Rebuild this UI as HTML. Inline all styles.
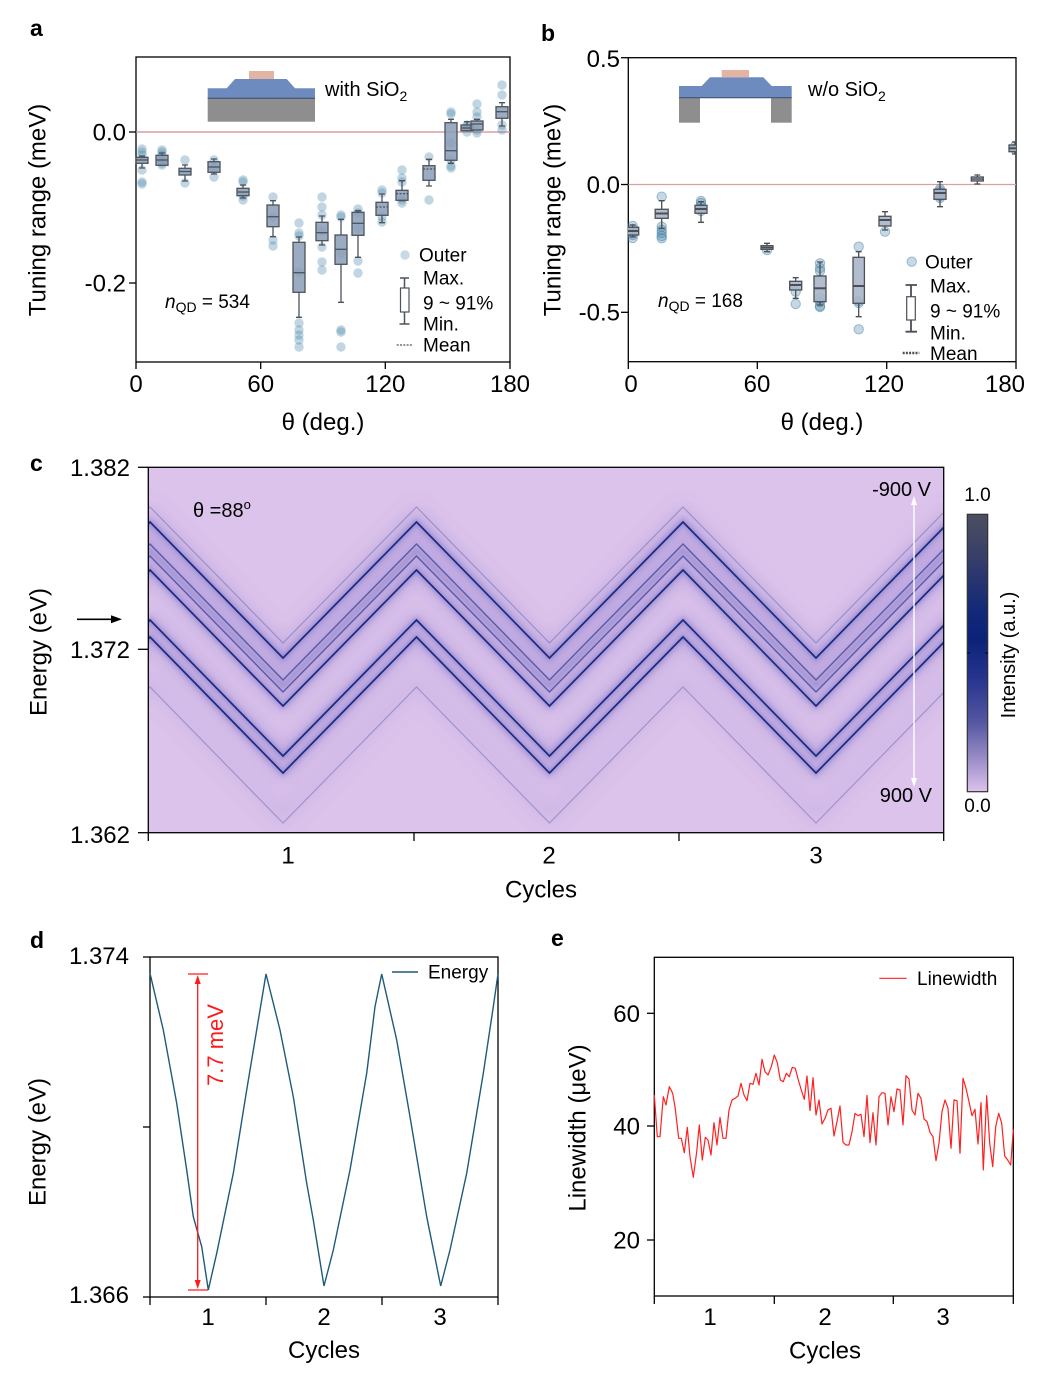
<!DOCTYPE html>
<html><head><meta charset="utf-8"><style>
html,body{margin:0;padding:0;background:#fff;}
svg{display:block;}
text{font-family:"Liberation Sans",Arial,sans-serif;fill:#000;}
</style></head><body>
<svg width="1046" height="1379" viewBox="0 0 1046 1379" xmlns="http://www.w3.org/2000/svg">
<defs>
<filter id="bl6" x="-10%" y="-50%" width="120%" height="200%"><feGaussianBlur stdDeviation="9"/></filter>
<filter id="bl2" x="-10%" y="-50%" width="120%" height="200%"><feGaussianBlur stdDeviation="2.5"/></filter>
<clipPath id="cc"><rect x="148" y="467" width="796" height="365"/></clipPath>
<clipPath id="cb"><rect x="628" y="57" width="388" height="305"/></clipPath>
<path id="z" d="M17,136 L150,0 L283,136 L416.5,0 L549.5,136 L683,0 L816,136 L949,0 L1082,136" fill="none"/>
<linearGradient id="cbar" x1="0" y1="0" x2="0" y2="1">
<stop offset="0" stop-color="#4c4f60"/>
<stop offset="0.15" stop-color="#383f68"/>
<stop offset="0.35" stop-color="#122878"/>
<stop offset="0.45" stop-color="#0b2279"/>
<stop offset="0.6" stop-color="#28368e"/>
<stop offset="0.75" stop-color="#5557a2"/>
<stop offset="0.88" stop-color="#9a8cc6"/>
<stop offset="1" stop-color="#dcc2ec"/>
</linearGradient>
</defs>

<!-- ============ Panel a ============ -->
<text x="30" y="36" font-size="23" font-weight="bold">a</text>
<rect x="136" y="57" width="374" height="305" fill="none" stroke="#000" stroke-width="1.3"/>
<line x1="136" y1="132" x2="510" y2="132" stroke="#d08c8c" stroke-width="1.3"/>
<g stroke="#000" stroke-width="1.3">
<line x1="129" y1="132" x2="136" y2="132"/><line x1="129" y1="283" x2="136" y2="283"/>
<line x1="136" y1="362" x2="136" y2="369"/><line x1="260.7" y1="362" x2="260.7" y2="369"/>
<line x1="385.3" y1="362" x2="385.3" y2="369"/><line x1="510" y1="362" x2="510" y2="369"/>
</g>
<g font-size="24" text-anchor="end"><text x="126" y="140.5">0.0</text><text x="126" y="291.5">-0.2</text></g>
<g font-size="24" text-anchor="middle"><text x="136" y="392">0</text><text x="260.7" y="392">60</text><text x="385.3" y="392">120</text><text x="510" y="392">180</text>
<text x="323" y="430">θ (deg.)</text></g>
<text transform="translate(45.5,210) rotate(-90)" font-size="24" text-anchor="middle">Tuning range (meV)</text>
<rect x="207.7" y="98.3" width="107.3" height="23.4" fill="#8e8e8e"/>
<polygon points="207.7,98.3 207.7,88.3 226.7,88.3 235,79 286.7,79 295,88.3 315,88.3 315,98.3" fill="#6e8bc0"/>
<line x1="207.7" y1="98.3" x2="315" y2="98.3" stroke="#3a4a6a" stroke-width="1"/>
<rect x="249" y="71" width="25" height="8" fill="#e2b4a4"/>
<text x="325" y="96" font-size="20">with SiO<tspan font-size="14" dy="5">2</tspan></text>
<g fill="#4a86aa" fill-opacity="0.34">
<circle cx="142" cy="149" r="4.7"/><circle cx="142" cy="152" r="4.7"/><circle cx="142" cy="155" r="4.7"/><circle cx="142" cy="170" r="4.7"/><circle cx="142" cy="182" r="4.7"/><circle cx="142" cy="184" r="4.7"/>
<circle cx="162" cy="150" r="4.7"/><circle cx="162" cy="152" r="4.7"/><circle cx="162" cy="155" r="4.7"/><circle cx="162" cy="160" r="4.7"/><circle cx="162" cy="163" r="4.7"/><circle cx="162" cy="165" r="4.7"/>
<circle cx="185" cy="160" r="4.7"/><circle cx="185" cy="183" r="4.7"/>
<circle cx="214" cy="160" r="4.7"/><circle cx="214" cy="168" r="4.7"/><circle cx="214" cy="177" r="4.7"/>
<circle cx="243" cy="180" r="4.7"/><circle cx="243" cy="182" r="4.7"/><circle cx="243" cy="196" r="4.7"/><circle cx="243" cy="200" r="4.7"/>
<circle cx="273" cy="197" r="4.7"/><circle cx="273" cy="217" r="4.7"/><circle cx="273" cy="240" r="4.7"/><circle cx="273" cy="246" r="4.7"/>
<circle cx="299" cy="223" r="4.7"/><circle cx="299" cy="233" r="4.7"/><circle cx="299" cy="236" r="4.7"/><circle cx="299" cy="272" r="4.7"/><circle cx="299" cy="323" r="4.7"/><circle cx="299" cy="330" r="4.7"/><circle cx="299" cy="335" r="4.7"/><circle cx="299" cy="340" r="4.7"/><circle cx="299" cy="347" r="4.7"/>
<circle cx="322" cy="197" r="4.7"/><circle cx="322" cy="207" r="4.7"/><circle cx="322" cy="215" r="4.7"/><circle cx="322" cy="231" r="4.7"/><circle cx="322" cy="247" r="4.7"/><circle cx="322" cy="262" r="4.7"/><circle cx="322" cy="270" r="4.7"/>
<circle cx="341" cy="215" r="4.7"/><circle cx="341" cy="217" r="4.7"/><circle cx="341" cy="253" r="4.7"/><circle cx="341" cy="330" r="4.7"/><circle cx="341" cy="332" r="4.7"/><circle cx="341" cy="347" r="4.7"/>
<circle cx="358" cy="209" r="4.7"/><circle cx="358" cy="213" r="4.7"/><circle cx="358" cy="228" r="4.7"/><circle cx="358" cy="261" r="4.7"/><circle cx="358" cy="273" r="4.7"/>
<circle cx="382" cy="190" r="4.7"/><circle cx="382" cy="193" r="4.7"/><circle cx="382" cy="217" r="4.7"/><circle cx="382" cy="222" r="4.7"/>
<circle cx="402" cy="170" r="4.7"/><circle cx="402" cy="178" r="4.7"/><circle cx="402" cy="182" r="4.7"/><circle cx="402" cy="200" r="4.7"/><circle cx="402" cy="203" r="4.7"/>
<circle cx="429" cy="157" r="4.7"/><circle cx="429" cy="200" r="4.7"/>
<circle cx="451" cy="112" r="4.7"/><circle cx="451" cy="114" r="4.7"/><circle cx="451" cy="143" r="4.7"/><circle cx="451" cy="160" r="4.7"/><circle cx="451" cy="166" r="4.7"/><circle cx="451" cy="168" r="4.7"/>
<circle cx="467" cy="125" r="4.7"/><circle cx="467" cy="127" r="4.7"/><circle cx="467" cy="132" r="4.7"/>
<circle cx="477" cy="104" r="4.7"/><circle cx="477" cy="112" r="4.7"/><circle cx="477" cy="117" r="4.7"/><circle cx="477" cy="130" r="4.7"/><circle cx="477" cy="133" r="4.7"/>
<circle cx="502" cy="85" r="4.7"/><circle cx="502" cy="95" r="4.7"/><circle cx="502" cy="125" r="4.7"/><circle cx="502" cy="130" r="4.7"/>
</g>
<g stroke="#4b535c" stroke-width="1.3" fill="#8a9cb6" fill-opacity="0.85">
<path d="M142,156V157.3M142,163.3V168M139,156H145M139,168H145" fill="none"/><rect x="136" y="157.3" width="12" height="6"/><line x1="136" y1="160" x2="148" y2="160"/>
<path d="M162,153V155.3M159,153H165" fill="none"/><rect x="156" y="155.3" width="12" height="10"/><line x1="156" y1="160" x2="168" y2="160"/>
<path d="M185,165V168.3M185,175V181M182,165H188M182,181H188" fill="none"/><rect x="179" y="168.3" width="12" height="6.7"/><line x1="179" y1="171.5" x2="191" y2="171.5"/>
<path d="M214,159V161.7M214,172.3V174M211,159H217M211,174H217" fill="none"/><rect x="208" y="161.7" width="12" height="10.6"/><line x1="208" y1="167" x2="220" y2="167"/>
<path d="M243,185V188.3M243,195.7V198M240,185H246M240,198H246" fill="none"/><rect x="237" y="188.3" width="12" height="7.4"/><line x1="237" y1="192" x2="249" y2="192"/>
<path d="M273,200.7V205M273,226.7V236.7M270,200.7H276M270,236.7H276" fill="none"/><rect x="267" y="205" width="12" height="21.7"/><line x1="267" y1="216.7" x2="279" y2="216.7"/>
<path d="M299,237V242.3M299,292.3V317.3M296,237H302M296,317.3H302" fill="none"/><rect x="293" y="242.3" width="12" height="50"/><line x1="293" y1="272.7" x2="305" y2="272.7"/>
<path d="M322,216V222.3M322,240.7V245M319,216H325M319,245H325" fill="none"/><rect x="316" y="222.3" width="12" height="18.4"/><line x1="316" y1="232.7" x2="328" y2="232.7"/>
<path d="M341,219.3V235M341,264.3V302.3M338,219.3H344M338,302.3H344" fill="none"/><rect x="335" y="235" width="12" height="29.3"/><line x1="335" y1="249.3" x2="347" y2="249.3"/>
<path d="M358,210.7V212.3M358,235.3V257.3M355,210.7H361M355,257.3H361" fill="none"/><rect x="352" y="212.3" width="12" height="23"/><line x1="352" y1="223.3" x2="364" y2="223.3"/>
<path d="M382,194V202.3M382,215.3V222.7M379,194H385M379,222.7H385" fill="none"/><rect x="376" y="202.3" width="12" height="13"/><line x1="376" y1="207" x2="388" y2="207" stroke-dasharray="2,1.5"/>
<path d="M402,180.7V190.3M399,180.7H405M399,200.7H405" fill="none"/><rect x="396" y="190.3" width="12" height="10"/><line x1="396" y1="193.7" x2="408" y2="193.7" stroke-dasharray="2,1.5"/>
<path d="M429,159.3V165.7M429,180.3V186M426,159.3H432M426,186H432" fill="none"/><rect x="423" y="165.7" width="12" height="14.6"/><line x1="423" y1="169" x2="435" y2="169" stroke-dasharray="2,1.5"/>
<path d="M451,119.3V122.7M451,160.3V163.3M448,119.3H454M448,163.3H454" fill="none"/><rect x="445" y="122.7" width="12" height="37.6"/><line x1="445" y1="150.7" x2="457" y2="150.7"/>
<path d="M467,121.7V125M464,121.7H470" fill="none"/><rect x="461" y="125" width="12" height="5.7"/><line x1="461" y1="128" x2="473" y2="128"/>
<path d="M477,119.3V121M474,119.3H480" fill="none"/><rect x="471" y="121" width="12" height="9"/><line x1="471" y1="124" x2="483" y2="124"/>
<path d="M502,102.7V106.7M502,118.3V126M499,102.7H505M499,126H505" fill="none"/><rect x="496" y="106.7" width="12" height="11.6"/><line x1="496" y1="111.7" x2="508" y2="111.7"/>
</g>
<circle cx="405" cy="255" r="4.7" fill="#4a86aa" fill-opacity="0.3"/>
<g stroke="#4b535c" stroke-width="1.5" fill="none">
<path d="M404.5,278V288M404.5,312V324M400,278H409M399.5,324H409.5"/>
<rect x="400.5" y="288" width="8.5" height="24" fill="#fff" stroke-width="1.2"/>
<line x1="396.7" y1="345" x2="413.3" y2="345" stroke-dasharray="2,1.3" stroke-width="1.3"/>
</g>
<g font-size="19"><text x="419" y="261.6">Outer</text><text x="423" y="284.6">Max.</text><text x="423" y="309.6">9 ~ 91%</text><text x="423" y="330.6">Min.</text><text x="423" y="351.6">Mean</text>
<text x="165" y="308"><tspan font-style="italic">n</tspan><tspan font-size="14" dy="4">QD</tspan><tspan dy="-4"> = 534</tspan></text></g>

<!-- ============ Panel b ============ -->
<text x="541" y="41" font-size="23" font-weight="bold">b</text>
<rect x="628.3" y="57.7" width="387.7" height="304" fill="none" stroke="#000" stroke-width="1.3"/>
<line x1="628.3" y1="184.5" x2="1016" y2="184.5" stroke="#d8a0a0" stroke-width="1.3"/>
<g stroke="#000" stroke-width="1.3">
<line x1="621" y1="57.7" x2="628.3" y2="57.7"/><line x1="621" y1="184.5" x2="628.3" y2="184.5"/><line x1="621" y1="312.3" x2="628.3" y2="312.3"/>
<line x1="628.3" y1="361.7" x2="628.3" y2="369"/><line x1="757.3" y1="361.7" x2="757.3" y2="369"/><line x1="886.7" y1="361.7" x2="886.7" y2="369"/><line x1="1016" y1="361.7" x2="1016" y2="369"/>
</g>
<g font-size="24" text-anchor="end"><text x="620" y="67">0.5</text><text x="620" y="193">0.0</text><text x="620" y="320.5">-0.5</text></g>
<g font-size="24" text-anchor="middle"><text x="631" y="392">0</text><text x="757" y="392">60</text><text x="884" y="392">120</text><text x="1005" y="392">180</text>
<text x="822" y="430">θ (deg.)</text></g>
<text transform="translate(560.5,210) rotate(-90)" font-size="24" text-anchor="middle">Tuning range (meV)</text>
<rect x="679" y="97.7" width="21" height="25" fill="#8e8e8e"/>
<rect x="771" y="97.7" width="20.7" height="25" fill="#8e8e8e"/>
<polygon points="679,97.7 679,86 701.7,86 710,77.3 763.3,77.3 771.7,86 791.7,86 791.7,97.7" fill="#6e8bc0"/>
<line x1="679" y1="97.7" x2="791.7" y2="97.7" stroke="#3a4a6a" stroke-width="1"/>
<rect x="721.7" y="70" width="27.3" height="7.3" fill="#e2b4a4"/>
<text x="808" y="96" font-size="20">w/o SiO<tspan font-size="14" dy="5">2</tspan></text>
<g clip-path="url(#cb)">
<g fill="#4a86aa" fill-opacity="0.32" stroke="#3f7a9e" stroke-opacity="0.45" stroke-width="1">
<circle cx="632.7" cy="226" r="4.7"/><circle cx="632.7" cy="229" r="4.7"/><circle cx="632.7" cy="232" r="4.7"/><circle cx="632.7" cy="235" r="4.7"/><circle cx="632.7" cy="238" r="4.7"/>
<circle cx="661.7" cy="196.7" r="4.7"/><circle cx="661.7" cy="226.7" r="4.7"/><circle cx="661.7" cy="230" r="4.7"/><circle cx="661.7" cy="233" r="4.7"/><circle cx="661.7" cy="236" r="4.7"/><circle cx="661.7" cy="238.3" r="4.7"/>
<circle cx="701" cy="201" r="4.7"/><circle cx="701" cy="203" r="4.7"/><circle cx="701" cy="206" r="4.7"/><circle cx="701" cy="209" r="4.7"/><circle cx="701" cy="211" r="4.7"/>
<circle cx="767" cy="250" r="4.7"/>
<circle cx="795.7" cy="291.7" r="4.7"/><circle cx="795.7" cy="304" r="4.7"/>
<circle cx="820" cy="263.3" r="4.7"/><circle cx="820" cy="268" r="4.7"/><circle cx="820" cy="271" r="4.7"/><circle cx="820" cy="298" r="4.7"/><circle cx="820" cy="302" r="4.7"/><circle cx="820" cy="306" r="4.7"/><circle cx="820" cy="307" r="4.7"/>
<circle cx="858.7" cy="246.7" r="4.7"/><circle cx="858.7" cy="301" r="4.7"/><circle cx="858.7" cy="303" r="4.7"/><circle cx="858.7" cy="329.3" r="4.7"/>
<circle cx="885" cy="231.7" r="4.7"/>
<circle cx="940" cy="189" r="4.7"/><circle cx="940" cy="191" r="4.7"/><circle cx="940" cy="193" r="4.7"/><circle cx="940" cy="196" r="4.7"/><circle cx="940" cy="198" r="4.7"/>
<circle cx="1015" cy="146" r="4.7"/><circle cx="1015" cy="149" r="4.7"/>
</g>
<g stroke="#4b4f55" stroke-width="1.3" fill="#a9b6c9" fill-opacity="0.9">
<path d="M632.7,225V237M629.7,225H635.7M629.7,237H635.7" fill="none"/><rect x="626.7" y="227.3" width="12" height="7.7"/><line x1="626.7" y1="231" x2="638.7" y2="231" stroke-width="2"/>
<path d="M661.7,200.7V209.3M661.7,218.3V228.3M658.7,200.7H664.7M658.7,228.3H664.7" fill="none"/><rect x="655.2" y="209.3" width="13" height="9"/><line x1="655.2" y1="213.5" x2="668.2" y2="213.5" stroke-width="2"/>
<path d="M701,201.7V205.3M701,213.3V222.3M698,201.7H704M698,222.3H704" fill="none"/><rect x="695" y="205.3" width="12" height="8"/><line x1="695" y1="209" x2="707" y2="209" stroke-width="2"/>
<path d="M767,243.3V245.7M767,249.3V251.7M764,243.3H770M764,251.7H770" fill="none"/><rect x="761" y="245.7" width="12" height="3.6"/><line x1="761" y1="247.5" x2="773" y2="247.5" stroke-width="1.6"/>
<path d="M795.7,277.7V281.3M795.7,290V298.3M792.7,277.7H798.7M792.7,298.3H798.7" fill="none"/><rect x="789.7" y="281.3" width="12" height="8.7"/><line x1="789.7" y1="285" x2="801.7" y2="285" stroke-width="2"/>
<path d="M820,262V276M820,301.7V305M817,262H823M817,305H823" fill="none"/><rect x="814" y="276" width="12" height="25.7"/><line x1="814" y1="288.3" x2="826" y2="288.3" stroke-width="2"/>
<path d="M858.7,251.7V257.3M858.7,303.3V316.7M855.7,251.7H861.7M855.7,316.7H861.7" fill="none"/><rect x="853" y="257.3" width="11.4" height="46"/><line x1="853" y1="286" x2="864.4" y2="286" stroke-width="2"/>
<path d="M885,211.7V216.3M885,226V230M882,211.7H888M882,230H888" fill="none"/><rect x="879" y="216.3" width="12" height="9.7"/><line x1="879" y1="220" x2="891" y2="220" stroke-width="2"/>
<path d="M940,181.7V189.3M940,199.3V206.7M937,181.7H943M937,206.7H943" fill="none"/><rect x="934" y="189.3" width="12" height="10"/><line x1="934" y1="193" x2="946" y2="193" stroke-width="2"/>
<path d="M977.3,175V177M977.3,181V184M974.3,175H980.3M974.3,184H980.3" fill="none"/><rect x="971.3" y="177" width="12" height="4"/><line x1="971.3" y1="179" x2="983.3" y2="179"/>
<path d="M1015,142V145M1015,151.7V154M1012,142H1018M1012,154H1018" fill="none"/><rect x="1009" y="145" width="12" height="6.7"/><line x1="1009" y1="148.3" x2="1021" y2="148.3" stroke-width="2"/>
</g>
</g>
<circle cx="911.7" cy="261.7" r="4.7" fill="#4a86aa" fill-opacity="0.3" stroke="#3f7a9e" stroke-opacity="0.45"/>
<g stroke="#4b4f55" stroke-width="1.8" fill="none">
<path d="M911,285V296.7M911,320V331.7M905.5,285H917M905.5,331.7H917"/>
<rect x="906.7" y="296.7" width="8.6" height="23.3" fill="#fff" stroke-width="1.2"/>
<line x1="902.7" y1="353" x2="919.3" y2="353" stroke-dasharray="2,1.2" stroke-width="2.5"/>
</g>
<g font-size="19"><text x="925" y="268.3">Outer</text><text x="930" y="292.6">Max.</text><text x="930" y="317.3">9 ~ 91%</text><text x="930" y="339.3">Min.</text><text x="930" y="360">Mean</text>
<text x="658" y="307"><tspan font-style="italic">n</tspan><tspan font-size="14" dy="4">QD</tspan><tspan dy="-4"> = 168</tspan></text></g>

<!-- ============ Panel c ============ -->
<text x="30" y="471" font-size="23" font-weight="bold">c</text>
<g clip-path="url(#cc)">
<rect x="148" y="467" width="796" height="365" fill="#dcc3eb"/>
<g stroke="#6f66c4" fill="none" filter="url(#bl6)">
<use href="#z" transform="translate(0,548)" stroke-width="44" stroke-opacity="0.26"/>
<use href="#z" transform="translate(0,628)" stroke-width="26" stroke-opacity="0.26"/>
<use href="#z" transform="translate(0,512)" stroke-width="14" stroke-opacity="0.14"/>
<use href="#z" transform="translate(0,680)" stroke-width="18" stroke-opacity="0.12"/>
</g>
<g stroke="#3b3fa6" fill="none" filter="url(#bl2)">
<use href="#z" transform="translate(0,522)" stroke-width="5" stroke-opacity="0.3"/>
<use href="#z" transform="translate(0,570)" stroke-width="5" stroke-opacity="0.3"/>
<use href="#z" transform="translate(0,620)" stroke-width="5" stroke-opacity="0.3"/>
<use href="#z" transform="translate(0,637)" stroke-width="5" stroke-opacity="0.3"/>
<use href="#z" transform="translate(0,550)" stroke-width="5" stroke-opacity="0.22"/>
</g>
<g fill="none" stroke="#1b2a82">
<use href="#z" transform="translate(0,507)" stroke-width="1.2" stroke-opacity="0.28"/>
<use href="#z" transform="translate(0,522)" stroke-width="1.7"/>
<use href="#z" transform="translate(0,544)" stroke-width="1.4" stroke-opacity="0.6"/>
<use href="#z" transform="translate(0,556)" stroke-width="1.4" stroke-opacity="0.6"/>
<use href="#z" transform="translate(0,570)" stroke-width="1.7"/>
<use href="#z" transform="translate(0,620)" stroke-width="1.7"/>
<use href="#z" transform="translate(0,637)" stroke-width="1.7"/>
<use href="#z" transform="translate(0,687)" stroke-width="1.2" stroke-opacity="0.28"/>
</g>
</g>
<rect x="148.3" y="467.3" width="795.4" height="365.4" fill="none" stroke="#000" stroke-width="1.3"/>
<g stroke="#000" stroke-width="1.3">
<line x1="138" y1="467.3" x2="148.3" y2="467.3"/><line x1="138" y1="649.3" x2="148.3" y2="649.3"/><line x1="138" y1="832.7" x2="148.3" y2="832.7"/>
<line x1="148.3" y1="832.7" x2="148.3" y2="841"/><line x1="414" y1="832.7" x2="414" y2="841"/><line x1="679" y1="832.7" x2="679" y2="841"/><line x1="943.7" y1="832.7" x2="943.7" y2="841"/>
</g>
<g font-size="24" text-anchor="end"><text x="130" y="476">1.382</text><text x="130" y="658">1.372</text><text x="130" y="843">1.362</text></g>
<g font-size="24" text-anchor="middle"><text x="288" y="863.5">1</text><text x="549" y="863.5">2</text><text x="816" y="863.5">3</text><text x="541" y="897.5">Cycles</text></g>
<text transform="translate(46.5,652) rotate(-90)" font-size="24" text-anchor="middle">Energy (eV)</text>
<line x1="77" y1="619.3" x2="114" y2="619.3" stroke="#000" stroke-width="1.6"/>
<polygon points="122,619.3 111,615.3 111,623.3" fill="#000"/>
<text x="193" y="517" font-size="20">θ =88<tspan font-size="13" dy="-8">o</tspan></text>
<text x="931" y="496" font-size="20" text-anchor="end">-900 V</text>
<text x="932" y="802" font-size="20" text-anchor="end">900 V</text>
<line x1="914" y1="503" x2="914" y2="781" stroke="#fff" stroke-width="1.4"/>
<polygon points="914,496 911,505 917,505" fill="#fff"/>
<polygon points="914,787 911,778 917,778" fill="#fff"/>
<rect x="967.3" y="514.3" width="20.4" height="277.4" fill="url(#cbar)" stroke="#333" stroke-width="1.2"/>
<line x1="967.3" y1="653" x2="970" y2="653" stroke="#000"/><line x1="985" y1="653" x2="987.7" y2="653" stroke="#000"/>
<g font-size="19" text-anchor="middle"><text x="977.5" y="501">1.0</text><text x="977.5" y="812">0.0</text></g>
<text transform="translate(1015,655) rotate(-90)" font-size="20" text-anchor="middle">Intensity (a.u.)</text>

<!-- ============ Panel d ============ -->
<text x="30" y="948" font-size="23" font-weight="bold">d</text>
<rect x="150" y="957" width="348" height="340" fill="none" stroke="#000" stroke-width="1.3"/>
<g stroke="#000" stroke-width="1.3">
<line x1="143" y1="957" x2="150" y2="957"/><line x1="143" y1="1127" x2="150" y2="1127"/><line x1="143" y1="1297" x2="150" y2="1297"/>
<line x1="150" y1="1297" x2="150" y2="1305"/><line x1="266" y1="1297" x2="266" y2="1305"/><line x1="382" y1="1297" x2="382" y2="1305"/><line x1="498" y1="1297" x2="498" y2="1305"/>
</g>
<g font-size="24" text-anchor="end"><text x="129" y="964">1.374</text><text x="129" y="1303">1.366</text></g>
<g font-size="24" text-anchor="middle"><text x="208" y="1325">1</text><text x="324" y="1325">2</text><text x="440" y="1325">3</text><text x="324" y="1358">Cycles</text></g>
<text transform="translate(45.5,1142) rotate(-90)" font-size="24" text-anchor="middle">Energy (eV)</text>
<polyline fill="none" stroke="#1f5a7a" stroke-width="1.4" points="150,973.3 163.3,1030 176.7,1103.3 186.7,1170 193.3,1216.7 201.7,1246.7 208.3,1290 216.7,1253.3 233.3,1173.3 246.7,1090 260,1010 266,974 280,1030 293.3,1096.7 306.7,1183.3 313.3,1220 324,1286 333.3,1250 350,1170 366.7,1073.3 375,1006.7 381.7,974 396.7,1040 410,1116.7 426.7,1216.7 440.7,1286 450,1250 466.7,1173.3 483.3,1073.3 493.3,1006.7 498,974"/>
<line x1="392" y1="972" x2="418" y2="972" stroke="#1f5a7a" stroke-width="1.4"/>
<text x="428" y="978.6" font-size="19">Energy</text>
<g stroke="#ff1a1a" stroke-width="1.3">
<line x1="188" y1="974" x2="208" y2="974"/><line x1="188" y1="1290" x2="208" y2="1290"/>
<line x1="197.7" y1="980" x2="197.7" y2="1284"/>
</g>
<polygon points="197.7,975 194.7,984 200.7,984" fill="#ff1a1a"/>
<polygon points="197.7,1289 194.7,1280 200.7,1280" fill="#ff1a1a"/>
<text transform="translate(223,1045) rotate(-90)" font-size="22" text-anchor="middle" style="fill:#ff1a1a">7.7 meV</text>

<!-- ============ Panel e ============ -->
<text x="551" y="946" font-size="23" font-weight="bold">e</text>
<rect x="654.3" y="957.3" width="359" height="338.7" fill="none" stroke="#000" stroke-width="1.3"/>
<g stroke="#000" stroke-width="1.3">
<line x1="647" y1="1013.3" x2="654.3" y2="1013.3"/><line x1="647" y1="1126" x2="654.3" y2="1126"/><line x1="647" y1="1240" x2="654.3" y2="1240"/>
<line x1="654.3" y1="1296" x2="654.3" y2="1304"/><line x1="774.3" y1="1296" x2="774.3" y2="1304"/><line x1="893.3" y1="1296" x2="893.3" y2="1304"/><line x1="1013.3" y1="1296" x2="1013.3" y2="1304"/>
</g>
<g font-size="24" text-anchor="end"><text x="640" y="1022">60</text><text x="640" y="1134.5">40</text><text x="640" y="1248.5">20</text></g>
<g font-size="24" text-anchor="middle"><text x="710" y="1325">1</text><text x="825" y="1325">2</text><text x="943" y="1325">3</text><text x="825" y="1358.5">Cycles</text></g>
<text transform="translate(585.5,1128) rotate(-90)" font-size="24" text-anchor="middle">Linewidth (μeV)</text>
<polyline fill="none" stroke="#ff2020" stroke-width="1.2" stroke-linejoin="round" points="654.3,1095 657.3,1136.7 660,1136.7 663.3,1096.7 666,1105 669.3,1086.7 672.7,1093.3 675,1106.7 678.7,1138.3 681.3,1138.3 684.3,1152.7 687.3,1127.3 690,1156.7 693.3,1177.3 696.7,1151.7 699.3,1125 702.3,1160 705.3,1137.3 708,1140 711,1155 714,1122.7 717,1145 720,1117.3 723,1138.3 726,1138.3 729,1110 732,1100 735,1098.3 738,1096 741,1083.3 744,1095 747,1100.7 750,1083.3 753,1084.3 756,1073.3 759,1085 762,1059.3 765,1071.7 768,1075 771.3,1066.7 774.3,1055 777.3,1062.7 780.3,1080 783.3,1081.7 786.3,1073.3 789.3,1076.7 792.3,1067.3 795.3,1068.3 798.3,1080 801.3,1090 804.3,1099.3 807,1076 810,1110.7 813,1077.7 816,1115 819,1100 822,1124 825,1118.3 828,1110 831,1108.3 834,1136 837,1121.7 840,1106 843,1142.3 846,1145 849,1145 852,1131.7 855,1113.3 858,1115.7 861,1114.3 864,1136.7 867,1095.3 870,1142.7 873,1112.7 876,1145 879,1096.7 882,1092.7 885,1093.3 888,1125 891,1096.7 894,1111.7 897,1089 900,1090 903,1125 906,1075.7 909,1079 912,1110 915,1115 918,1093.3 921,1098.3 924,1119 927,1121.7 930,1132.3 933,1136.7 936,1160.7 939,1143.3 942,1111.7 945,1100 948,1108.3 951,1148.3 954,1100 957,1100.7 960,1153.3 963,1078.3 966,1088.3 969,1101.7 972,1115.7 975,1109.3 978,1144 981,1102.7 983.3,1170 986.7,1095.7 989.7,1143.3 992.7,1166.7 995.7,1126.7 998.7,1113.3 1001.7,1123.3 1004.7,1156 1007.7,1160 1010.7,1165 1013.3,1129.3"/>
<line x1="879.3" y1="978.3" x2="906.7" y2="978.3" stroke="#ff2020" stroke-width="1.2"/>
<text x="917" y="985" font-size="19">Linewidth</text>
</svg>
</body></html>
